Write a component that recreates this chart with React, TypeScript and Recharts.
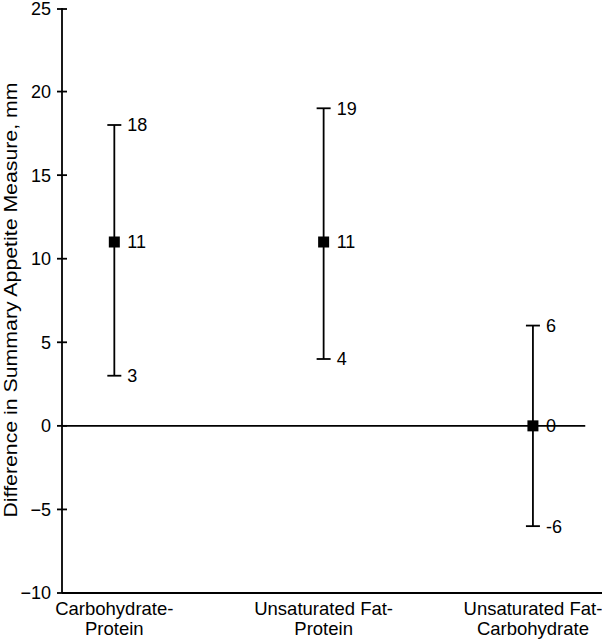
import { ScatterChart, Scatter, XAxis, YAxis, ErrorBar, ReferenceLine, LabelList } from 'recharts';

const categoryTop = ['Carbohydrate-', 'Unsaturated Fat-', 'Unsaturated Fat-'];
const categoryBottom = ['Protein', 'Protein', 'Carbohydrate'];
const means = [11, 11, 0];
const lowers = [3, 4, -6];
const uppers = [18, 19, 6];
const yTicks = [-10, -5, 0, 5, 10, 15, 20, 25];

const FONT = '"Liberation Sans", Arial, sans-serif';

const data = means.map((m, i) => ({
  x: i + 1,
  mean: m,
  lo: lowers[i],
  hi: uppers[i],
  err: [m - lowers[i], uppers[i] - m],
}));

const fmt = (v: number) => (v < 0 ? `\u2212${Math.abs(v)}` : `${v}`);

function YTick(props: any) {
  const { x, y, payload } = props;
  return (
    <g>
      <line x1={x + 5} x2={x + 15} y1={y} y2={y} stroke="#000" strokeWidth={1.8} />
      <text x={x - 1} y={y} dy="0.36em" textAnchor="end" fontSize={18} fontFamily={FONT} fill="#000">
        {fmt(payload.value)}
      </text>
    </g>
  );
}

function XTick(props: any) {
  const { x, y, payload } = props;
  const i = payload.value - 1;
  return (
    <text x={x} y={y} textAnchor="middle" fontSize={18.5} fontFamily={FONT} fill="#000">
      <tspan x={x} dy={14}>{categoryTop[i]}</tspan>
      <tspan x={x} dy={20}>{categoryBottom[i]}</tspan>
    </text>
  );
}

const Square = (props: any) => {
  const { cx, cy } = props;
  return <rect x={cx - 5.5} y={cy - 5.5} width={11} height={11} fill="#000" />;
};

const Empty = () => <g />;

const labelStyle = { fontSize: 18, fontFamily: FONT, fill: '#000' };

export default function App() {
  return (
    <div style={{ position: 'absolute', left: 0, top: 0, background: '#fff' }}>
      <ScatterChart width={602} height={639} margin={{ top: 8, right: 0, bottom: 0, left: 0 }}>
        <XAxis
          type="number"
          dataKey="x"
          domain={[0.75, 3.33]}
          ticks={[1, 2, 3]}
          allowDataOverflow
          height={46}
          tickLine={false}
          axisLine={{ stroke: '#000', strokeWidth: 1.8 }}
          tick={<XTick />}
        />
        <YAxis
          type="number"
          dataKey="mean"
          domain={[-10, 25]}
          ticks={yTicks}
          allowDataOverflow
          width={62}
          tickSize={5}
          tickMargin={5}
          tickLine={false}
          axisLine={{ stroke: '#000', strokeWidth: 1.8 }}
          tick={<YTick />}
          label={{
            content: () => (
              <text
                x={17}
                y={300}
                transform="rotate(-90, 17, 300)"
                textAnchor="middle"
                fontSize={18.5}
                fontFamily={FONT}
                fill="#000"
                textLength={435}
                lengthAdjust="spacingAndGlyphs"
              >
                Difference in Summary Appetite Measure, mm
              </text>
            ),
          }}
        />
        <ReferenceLine
          segment={[{ x: 0.75, y: 0 }, { x: 3.25, y: 0 }]}
          stroke="#000"
          strokeWidth={1.8}
          ifOverflow="visible"
        />
        <Scatter data={data} dataKey="mean" shape={<Square />} isAnimationActive={false}>
          <ErrorBar dataKey="err" direction="y" width={7} stroke="#000" strokeWidth={1.8} isAnimationActive={false} />
          <LabelList dataKey="mean" position="right" offset={8.5} style={labelStyle} />
        </Scatter>
        <Scatter data={data.map((d) => ({ ...d, mean: d.hi }))} dataKey="mean" shape={<Empty />} isAnimationActive={false}>
          <LabelList dataKey="mean" position="right" offset={8.5} style={labelStyle} />
        </Scatter>
        <Scatter data={data.map((d) => ({ ...d, mean: d.lo }))} dataKey="mean" shape={<Empty />} isAnimationActive={false}>
          <LabelList dataKey="mean" position="right" offset={8.5} style={labelStyle} />
        </Scatter>
      </ScatterChart>
    </div>
  );
}
